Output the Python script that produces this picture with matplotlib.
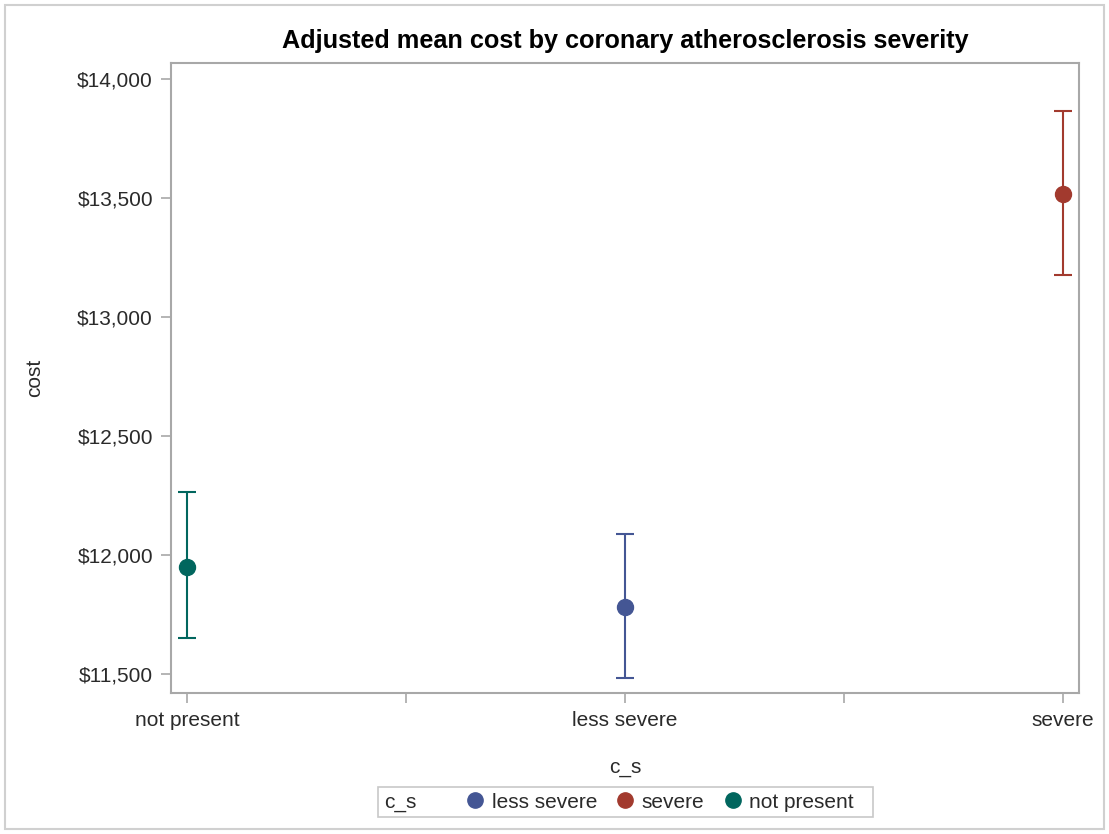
import matplotlib.pyplot as plt
from matplotlib.lines import Line2D
from matplotlib.patches import Rectangle
from matplotlib.ticker import FuncFormatter

categories = ['not present', 'less severe', 'severe']
means = [11950, 11783, 13517]
lower = [11651, 11485, 13176]
upper = [12265, 12090, 13866]
colors = ['#01665E', '#445694', '#A23A2E']
legend_order = ['less severe', 'severe', 'not present']

plt.rcParams['font.family'] = ['Liberation Sans', 'DejaVu Sans']

W, H = 1109, 834
fig = plt.figure(figsize=(W / 100, H / 100), dpi=100)
ax = fig.add_axes([171 / W, 1 - 693 / H, (1079 - 171) / W, (693 - 63) / H])

for i, cat in enumerate(categories):
    err = [[means[i] - lower[i]], [upper[i] - means[i]]]
    ax.errorbar([i], [means[i]], yerr=err, fmt='o', color=colors[i], ms=11.5,
                elinewidth=1.5, capsize=6.5, capthick=1.5)

ax.set_xlim(-0.037, 2.037)
ax.set_ylim(11420, 14067)
ax.set_xticks(range(len(categories)))
ax.set_xticklabels(categories)
ax.set_xticks([0.5, 1.5], minor=True)
ax.set_yticks([11500, 12000, 12500, 13000, 13500, 14000])
ax.yaxis.set_major_formatter(FuncFormatter(lambda v, p: f'${v:,.0f}'))

for s in ax.spines.values():
    s.set_color('#a8a8a8')
    s.set_linewidth(1.5)
ax.tick_params(axis='both', which='both', color='#a8a8a8', width=1.2, length=7,
               labelsize=15, labelcolor='#2a2a2a', pad=6)

ax.set_xlabel('c_s', fontsize=15, color='#2a2a2a', labelpad=20)
ax.set_ylabel('cost', fontsize=15, color='#2a2a2a', labelpad=24)
ax.set_title('Adjusted mean cost by coronary atherosclerosis severity',
             fontsize=18.2, fontweight='bold', pad=11)

# legend: frame + "c_s" title drawn separately, entries via fig.legend
handles = []
for lab in legend_order:
    c = colors[categories.index(lab)]
    handles.append(Line2D([], [], linestyle='none', marker='o', color=c, ms=11))
leg = fig.legend(handles, legend_order, loc='center left',
                 bbox_to_anchor=(452 / W, 1 - 802 / H), ncol=3, fontsize=15,
                 frameon=False, handletextpad=0.2, columnspacing=0.75,
                 handlelength=1.2, borderpad=0)
for t in leg.get_texts():
    t.set_color('#2a2a2a')
fig.text(384 / W, 1 - 802 / H, 'c_s', fontsize=15, color='#2a2a2a', va='center', ha='left')
fig.patches.append(Rectangle((378 / W, 1 - 817 / H), (873 - 378) / W, 30 / H,
                             transform=fig.transFigure, fill=False,
                             edgecolor='#c8c8c8', linewidth=1.2))

fig.patches.append(Rectangle((5 / W, 5 / H), 1 - 10 / W, 1 - 10 / H,
                             transform=fig.transFigure, fill=False,
                             edgecolor='#d0d0d0', linewidth=1.5))

fig.savefig('out.png', dpi=100)
